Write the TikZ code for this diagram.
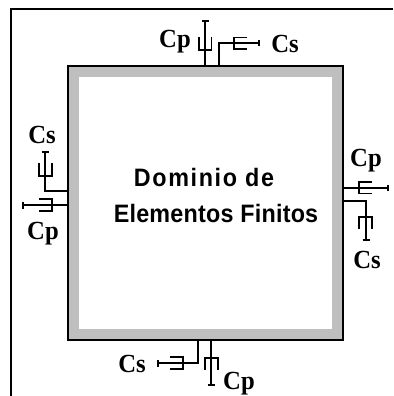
\documentclass[tikz,border=0pt]{standalone}
\usepackage{graphicx}
\usepackage{fontspec}
\setmainfont{Liberation Sans}
\newfontfamily\serifb{Liberation Serif}
\newcommand{\lbl}[1]{\scalebox{1}[1.06]{#1}}
\newcommand{\ttl}[1]{\scalebox{1}[1.08]{#1}}
\begin{document}
\begin{tikzpicture}[x=0.75pt,y=-0.75pt,
  link/.style={line width=1.3pt,black,line join=miter},
  lab/.style={font=\serifb\bfseries\fontsize{18.5}{20}\selectfont,inner sep=0pt,anchor=base},
  title/.style={font=\bfseries\fontsize{17.5}{27}\selectfont,inner sep=0pt,anchor=base}]
\useasboundingbox (0,0) rectangle (393,396);
\fill[white] (0,0) rectangle (393,396);
% outer frame
\draw[line width=1.6pt] (11,396) -- (11,9) -- (393,9);
% domain
\fill[black!25] (68.6,66.6) rectangle (342.4,339.4);
\node[draw=black,line width=1.15pt,minimum width=275*0.75pt,minimum height=274*0.75pt,inner sep=0pt] (dom) at (205.5,203) {};
\fill[white] (79,77) rectangle (332,329);
\node[title] (txt1) at (204,186) {\ttl{\addfontfeature{LetterSpace=7}Dominio de}};
\node[title] (txt2) at (216,222) {\ttl{\addfontfeature{LetterSpace=1}Elementos Finitos}};
% attachment points
\coordinate (t1) at (205.3,66); \coordinate (t2) at (219,66);
\coordinate (r1) at (343,188); \coordinate (r2) at (343,201);
\coordinate (l1) at (68,191); \coordinate (l2) at (68,205);
\coordinate (b1) at (198,340); \coordinate (b2) at (211,340);
% top
\draw[link] (t1) -- (205.3,21) (202,21) -- (208.6,21) (199,37) -- (199,50) -- (211.5,50) -- (211.5,37);
\draw[link] (t2) |- (259,43) (259,40) -- (259,46) (247,37.5) -- (234.3,37.5) -- (234.3,49) -- (247,49);
% right
\draw[link] (r1) -- (388,188) (388,185) -- (388,191) (372,182) -- (359,182) -- (359,193.5) -- (372,193.5);
\draw[link] (r2) -| (366,240) (362.5,240) -- (369.5,240) (359,229) -- (359,217) -- (372,217) -- (372,229);
% left
\draw[link] (l1) -| (45,152) (41.5,152) -- (48.5,152) (39,163) -- (39,176) -- (52,176) -- (52,163);
\draw[link] (l2) -- (23,205) (23,201.5) -- (23,208.5) (39,199) -- (52,199) -- (52,211) -- (39,211);
% bottom
\draw[link] (b1) |- (158,363) (158,359.5) -- (158,366.5) (170,357) -- (183,357) -- (183,369) -- (170,369);
\draw[link] (b2) -- (211,385) (207.5,385) -- (214.5,385) (205,370) -- (205,358) -- (218,358) -- (218,370);
% labels
\node[lab] (cp1) at (175,47) {\lbl{Cp}};
\node[lab] (cs1) at (285,52) {\lbl{Cs}};
\node[lab] (cp2) at (366,166) {\lbl{Cp}};
\node[lab] (cs2) at (367,268) {\lbl{Cs}};
\node[lab] (cs3) at (42,143) {\lbl{Cs}};
\node[lab] (cp3) at (43,239) {\lbl{Cp}};
\node[lab] (cs4) at (132,372) {\lbl{Cs}};
\node[lab] (cp4) at (239,389) {\lbl{Cp}};
\end{tikzpicture}
\end{document}
